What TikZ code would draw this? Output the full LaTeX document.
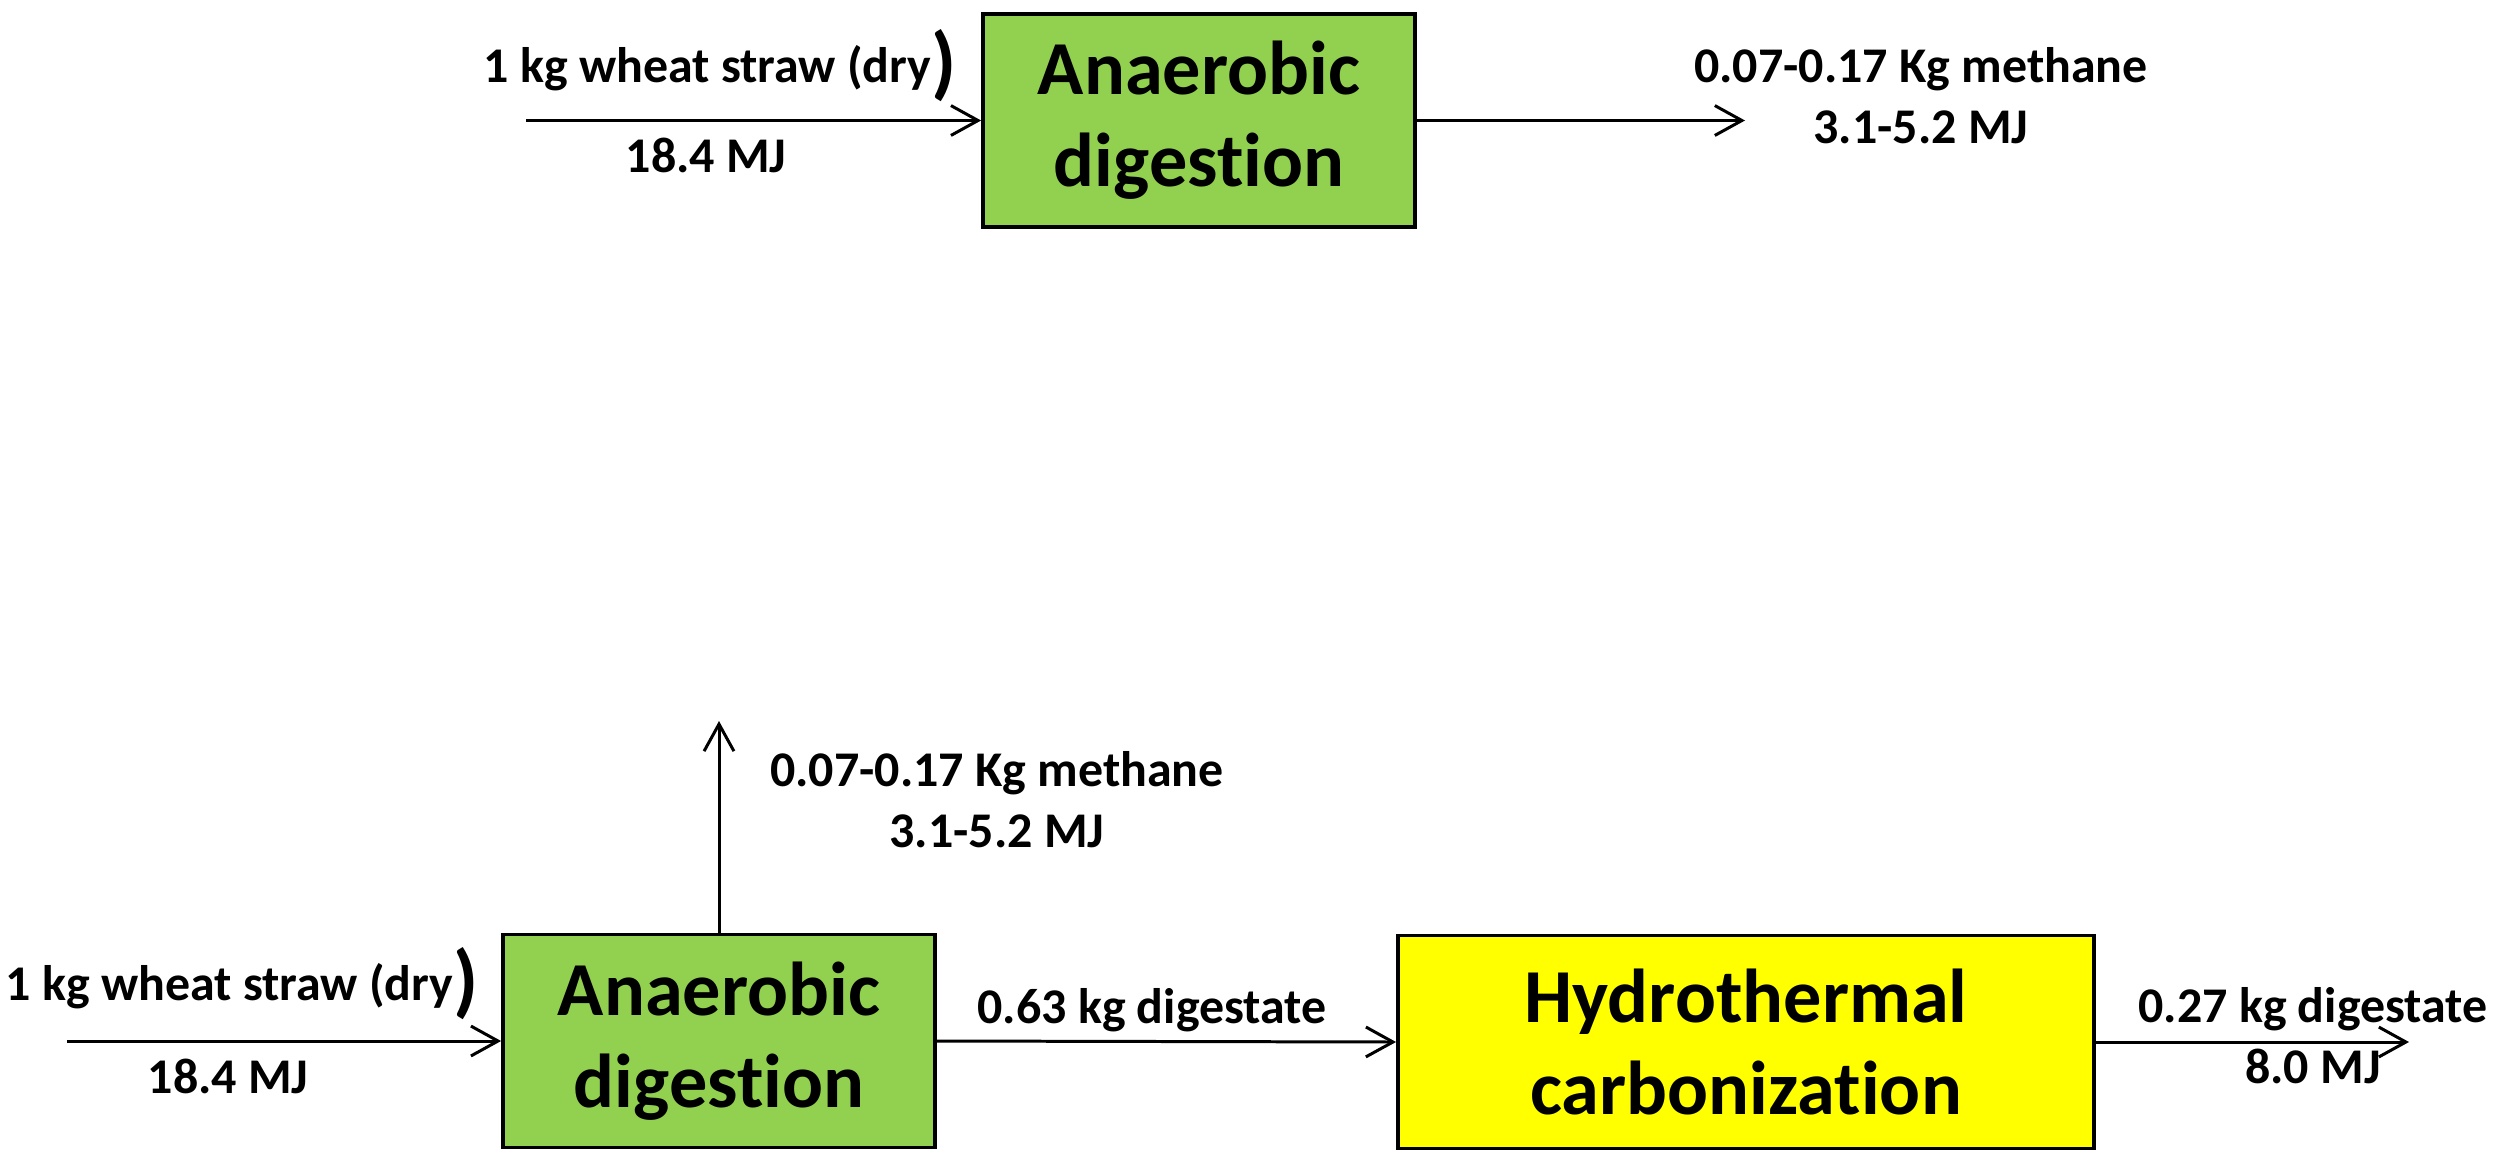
\documentclass[tikz,border=0pt]{standalone}
\usepackage{fontspec}
\setmainfont{Carlito}[Ligatures=NoCommon]
\usetikzlibrary{arrows.meta}
\definecolor{adgreen}{HTML}{92D050}
\definecolor{htcyellow}{HTML}{FFFF00}
\newcommand{\bigclose}{\raisebox{-2pt}{\fontsize{23pt}{23pt}\selectfont)}}
\begin{document}
\begin{tikzpicture}[x=0.01cm,y=-0.01cm,
  procbox/.style={draw=black, line width=1pt, inner sep=0pt, align=center,
    font=\bfseries\fontsize{21.7pt}{26.2pt}\selectfont},
  lbl/.style={inner sep=0pt, align=center,
    font=\bfseries\fontsize{14.2pt}{17.1pt}\selectfont},
  flow/.style={line width=0.85pt, -{Straight Barb[length=7.7pt,width=8.5pt]}}]
\useasboundingbox (0,0) rectangle (2496,1160);

% ---- top scheme ----
\node[procbox, fill=adgreen, minimum width=4.32cm, minimum height=2.13cm] (adT) at (1199,120.5) {Anaerobic\\digestion};
\coordinate (inT) at (526,120.5);
\coordinate (outT) at (1745,120.5);
\draw[flow] (inT) -- (adT.west);
\draw[flow] (adT.east) -- (outT);
\node[lbl, anchor=base west] (feedT) at (483,82) {1 kg wheat straw (dry\bigclose};
\node[lbl, anchor=base west] (enT) at (625,172) {18.4 MJ};
\node[lbl, anchor=base] (methT) at (1921,143) {0.07-0.17 Kg methane\\3.1-5.2 MJ};

% ---- bottom scheme ----
\node[procbox, fill=adgreen, minimum width=4.32cm, minimum height=2.13cm] (adB) at (719,1041) {Anaerobic\\digestion};
\node[procbox, fill=htcyellow, minimum width=6.96cm, minimum height=2.13cm] (htc) at (1746,1042) {Hydrothermal\\carbonization};
\coordinate (inB) at (67,1041);
\coordinate (upB) at (719,721);
\coordinate (outB) at (2409,1042);
\draw[flow] (inB) -- (adB.west);
\draw[flow] (adB.north) -- (upB);
\draw[flow] (adB.east) -- (htc.west);
\draw[flow] (htc.east) -- (outB);
\node[lbl, anchor=base west] (feedB) at (5,1000) {1 kg wheat straw (dry\bigclose};
\node[lbl, anchor=base west] (enB) at (147,1093) {18.4 MJ};
\node[lbl, anchor=base] (methB) at (997,847) {0.07-0.17 Kg methane\\3.1-5.2 MJ};
\node[lbl, anchor=base] (dig1) at (1152,1023) {0.63 kg digestate};
\node[lbl, anchor=base] (dig2) at (2313,1083) {0.27 kg digestate\\8.0 MJ};
\end{tikzpicture}
\end{document}
